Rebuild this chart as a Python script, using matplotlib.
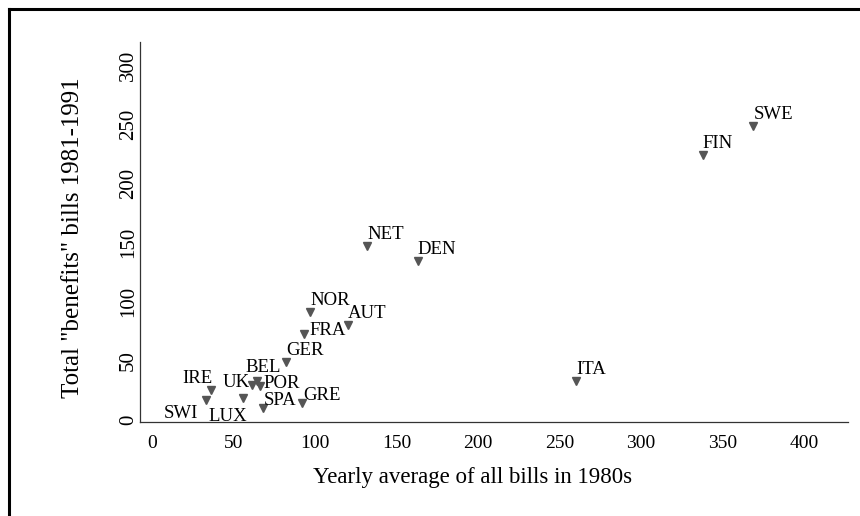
import matplotlib
matplotlib.use('Agg')
import matplotlib.pyplot as plt
from matplotlib.lines import Line2D

countries = ['SWE', 'FIN', 'NET', 'DEN', 'NOR', 'AUT', 'FRA', 'GER', 'BEL', 'UK',
             'POR', 'IRE', 'SWI', 'LUX', 'SPA', 'GRE', 'ITA']
all_bills = [369, 338, 132, 163, 97, 120, 93, 82, 64, 61, 66, 36, 33, 56, 68, 92, 260]
benefit_bills = [248, 224, 147, 134, 91, 80, 73, 49, 33, 30, 29, 25, 17, 19, 10, 14, 33]

# label offsets in pixels (dx, dy, ha)
offsets = {
    'FRA': (6, -1, 'left'),
    'BEL': (-11, 9, 'left'),
    'UK': (-2, -2, 'right'),
    'POR': (4, -2, 'left'),
    'IRE': (2, 7, 'right'),
    'SWI': (-8, -18, 'right'),
    'LUX': (4, -23, 'right'),
    'SPA': (1, 3, 'left'),
    'GRE': (1, 3, 'left'),
}

plt.rcParams['font.family'] = ['Liberation Serif', 'DejaVu Serif']

fig = plt.figure(figsize=(8.6, 5.16), dpi=100)
ax = fig.add_axes([0.163, 0.182, 0.823, 0.737])

ax.plot(all_bills, benefit_bills, 'v', color='#555555', markersize=6, linestyle='none')

for name, x, y in zip(countries, all_bills, benefit_bills):
    dx, dy, ha = offsets.get(name, (0, 7, 'left'))
    ax.annotate(name, (x, y), xytext=(dx, dy), textcoords='offset pixels',
                ha=ha, va='baseline', fontsize=13.5)

ax.set_xlim(-7.4, 427)
ax.set_ylim(-1.7, 319.5)
ax.set_xticks(range(0, 401, 50))
ax.set_yticks(range(0, 301, 50))
ax.tick_params(length=0)
ax.tick_params(axis='x', pad=9, labelsize=14)
ax.tick_params(axis='y', pad=1.5, labelsize=15)
for lbl in ax.get_yticklabels():
    lbl.set_rotation(90)
    lbl.set_va('center')

for s in ['top', 'right']:
    ax.spines[s].set_visible(False)
for s in ['left', 'bottom']:
    ax.spines[s].set_color('#333333')
    ax.spines[s].set_linewidth(0.9)

ax.set_xlabel('Yearly average of all bills in 1980s', fontsize=16.5)
ax.set_ylabel('Total "benefits" bills 1981-1991', fontsize=18)
ax.xaxis.set_label_coords(0.469, -0.147)
ax.xaxis.label.set_va('center')
ax.yaxis.set_label_coords(-0.0946, 0.486)
ax.yaxis.label.set_va('center')

# outer frame (cropped on the right and bottom)
fx = 8.5 / 860
fy = 1 - 8.5 / 516
fig.add_artist(Line2D([fx, 1.0], [fy, fy], transform=fig.transFigure, color='black', lw=2.2))
fig.add_artist(Line2D([fx, fx], [0.0, fy], transform=fig.transFigure, color='black', lw=2.2))

fig.savefig('out.png', dpi=100)
